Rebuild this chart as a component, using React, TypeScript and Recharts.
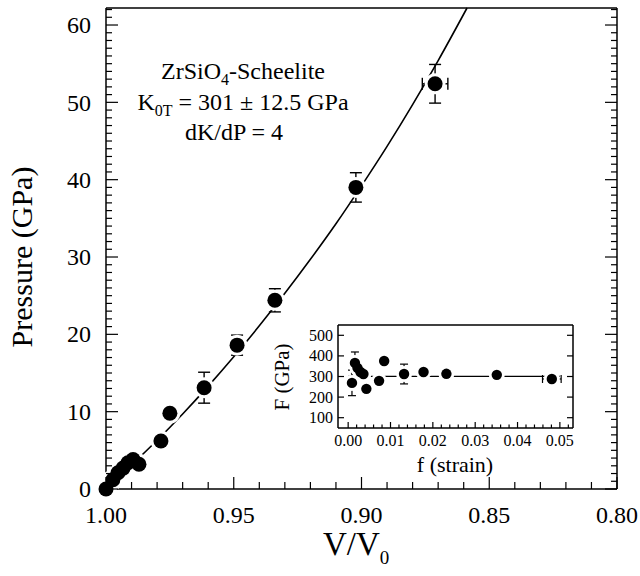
import React from "react";
import { ComposedChart, Line, Scatter, XAxis, YAxis, ErrorBar } from "recharts";

const FONT = "Liberation Serif, Times New Roman, serif";

// main panel: P-V data
const volume = [1.0, 0.9973, 0.9953, 0.9933, 0.9914, 0.9894, 0.9871, 0.9785, 0.975, 0.9616, 0.9487, 0.9339, 0.9022, 0.8712];
const pressure = [0, 1.2, 2.1, 2.7, 3.4, 3.8, 3.2, 6.2, 9.8, 13.1, 18.6, 24.4, 39.0, 52.4];
const pressureErr = [0, 0, 0, 0, 0, 0, 0, 0, 0, 2.0, 1.3, 1.5, 1.9, 2.5];
const volumeErr = [0, 0, 0, 0, 0, 0, 0, 0, 0, 0, 0, 0, 0, 0.005];

// fitted EoS curve
const fitVolume = [1.0, 0.99, 0.98, 0.97, 0.96, 0.95, 0.94, 0.93, 0.92, 0.91, 0.9, 0.89, 0.88, 0.87, 0.8587];
const fitPressure = [0, 3.1, 6.3, 9.7, 13.3, 17.1, 21.1, 25.3, 29.7, 34.3, 39.2, 44.3, 49.7, 55.4, 62.2];

// inset: normalized pressure vs Eulerian strain
const strain = [0.0009, 0.0016, 0.0022, 0.0029, 0.0036, 0.0043, 0.0073, 0.0085, 0.0132, 0.0178, 0.0232, 0.0351, 0.0481];
const normPressure = [269, 366, 342, 322, 312, 240, 279, 375, 312, 322, 313, 308, 288];
const normPressureErr = [62, 53, 0, 0, 0, 0, 0, 0, 48, 0, 0, 0, 0];
const strainErr = [0, 0, 0, 0, 0, 0, 0, 0, 0, 0, 0, 0, 0.0022];
const fitStrain = [0, 0.05];
const fitNormPressure = [301, 301];

// axis ticks
const range = (a: number, b: number, step: number, digits: number) => {
  const out: number[] = [];
  const n = Math.round((b - a) / step);
  for (let i = 0; i <= n; i++) out.push(+(a + i * step).toFixed(digits));
  return out;
};
const mainXTicks = range(0.8, 1.0, 0.01, 2);
const mainXLabels = [1.0, 0.95, 0.9, 0.85, 0.8];
const mainYTicks = range(0, 62, 1, 0);
const mainYLabels = [0, 10, 20, 30, 40, 50, 60];
const insetXTicks = range(0, 0.052, 0.002, 3);
const insetXLabels = [0, 0.01, 0.02, 0.03, 0.04, 0.05];
const insetYTicks = [100, 200, 300, 400, 500];

const mainData = volume.map((v, i) => ({ v, p: pressure[i], ep: pressureErr[i], ev: volumeErr[i] }));
const mainFit = fitVolume.map((v, i) => ({ v, p: fitPressure[i] }));
const insetData = strain.map((f, i) => ({ f, F: normPressure[i], eF: normPressureErr[i], ef: strainErr[i] }));
const insetFit = fitStrain.map((f, i) => ({ f, F: fitNormPressure[i] }));

type Side = "bottom" | "top" | "left" | "right";

function axisTick(side: Side, majors: number[], majorLen: number, minorLen: number, fontSize = 0, off = 0, fmt?: (v: number) => string) {
  return (props: any) => {
    const { x, y, payload } = props;
    const v = payload.value;
    const major = majors.some((m) => Math.abs(m - v) < 1e-9);
    const len = major ? majorLen : minorLen;
    const dx = side === "left" ? len : side === "right" ? -len : 0;
    const dy = side === "bottom" ? -len : side === "top" ? len : 0;
    const txt = { fontSize, fill: "#000", style: { fontFamily: FONT } };
    let label = null;
    if (fmt && major) {
      if (side === "bottom")
        label = (
          <text x={x} y={y + off} textAnchor="middle" {...txt}>
            {fmt(v)}
          </text>
        );
      if (side === "left")
        label = (
          <text x={x - off} y={y + fontSize * 0.34} textAnchor="end" {...txt}>
            {fmt(v)}
          </text>
        );
    }
    return (
      <g>
        <line x1={x} y1={y} x2={x + dx} y2={y + dy} stroke="#000" strokeWidth={1.2} />
        {label}
      </g>
    );
  };
}

const axisLine = { stroke: "#000", strokeWidth: 1.5 };

export default function App() {
  return (
    <div style={{ position: "absolute", left: 0, top: 0, width: 640, height: 576, background: "#fff", fontFamily: FONT }}>
      <ComposedChart width={640} height={576} margin={{ top: 7, right: 22, bottom: 7, left: 6 }}>
        <XAxis
          dataKey="v"
          type="number"
          domain={[0.8, 1.0]}
          reversed
          ticks={mainXTicks}
          interval={0}
          height={80}
          tickSize={0}
          tickMargin={0}
          tickLine={false}
          axisLine={axisLine}
          tick={axisTick("bottom", mainXLabels, 12, 7, 24, 34, (v) => v.toFixed(2))}
        />
        <XAxis
          xAxisId="top"
          orientation="top"
          type="number"
          domain={[0.8, 1.0]}
          reversed
          allowDataOverflow
          ticks={mainXTicks}
          interval={0}
          height={1}
          tickSize={0}
          tickMargin={0}
          tickLine={false}
          axisLine={axisLine}
          tick={axisTick("top", mainXLabels, 12, 7)}
        />
        <YAxis
          type="number"
          domain={[0, 62.2]}
          ticks={mainYTicks}
          interval={0}
          width={100}
          tickSize={0}
          tickMargin={0}
          tickLine={false}
          axisLine={axisLine}
          tick={axisTick("left", mainYLabels, 12, 6, 24, 15, (v) => String(v))}
        />
        <YAxis
          yAxisId="r"
          orientation="right"
          type="number"
          domain={[0, 62.2]}
          allowDataOverflow
          ticks={mainYTicks}
          interval={0}
          width={1}
          tickSize={0}
          tickMargin={0}
          tickLine={false}
          axisLine={axisLine}
          tick={axisTick("right", mainYLabels, 12, 6)}
        />
        <Line data={mainFit} dataKey="p" type="monotone" stroke="#000" strokeWidth={1.6} dot={false} isAnimationActive={false} />
        <Scatter
          data={mainData}
          dataKey="p"
          isAnimationActive={false}
          shape={(p: any) => <circle cx={p.cx} cy={p.cy} r={10.5} fill="#fff" />}
        />
        <Scatter
          data={mainData}
          dataKey="p"
          isAnimationActive={false}
          shape={(p: any) => <circle cx={p.cx} cy={p.cy} r={7.5} fill="#000" />}
        >
          <ErrorBar dataKey="ep" direction="y" width={6} stroke="#000" strokeWidth={1.4} />
          <ErrorBar dataKey="ev" direction="x" width={6} stroke="#000" strokeWidth={1.4} />
        </Scatter>
      </ComposedChart>

      <div style={{ position: "absolute", left: 260, top: 310 }}>
        <ComposedChart width={330} height={175} margin={{ top: 14, right: 16, bottom: 7, left: 8 }}>
          <XAxis
            dataKey="f"
            type="number"
            domain={[-0.0024, 0.0531]}
            ticks={insetXTicks}
            interval={0}
            height={50}
            tickSize={0}
            tickMargin={0}
            tickLine={false}
            axisLine={axisLine}
            tick={axisTick("bottom", insetXLabels, 6, 3.5, 16, 18, (v) => v.toFixed(2))}
          />
          <XAxis
            xAxisId="top"
            orientation="top"
            type="number"
            domain={[-0.0024, 0.0531]}
            allowDataOverflow
            ticks={insetXTicks}
            interval={0}
            height={1}
            tickSize={0}
            tickMargin={0}
            tickLine={false}
            axisLine={axisLine}
            tick={axisTick("top", insetXLabels, 6, 3.5)}
          />
          <YAxis
            type="number"
            domain={[50, 550]}
            ticks={insetYTicks}
            interval={0}
            width={70}
            tickSize={0}
            tickMargin={0}
            tickLine={false}
            axisLine={axisLine}
            tick={axisTick("left", insetYTicks, 6, 6, 16, 5, (v) => String(v))}
          />
          <YAxis
            yAxisId="r"
            orientation="right"
            type="number"
            domain={[50, 550]}
            allowDataOverflow
            ticks={insetYTicks}
            interval={0}
            width={1}
            tickSize={0}
            tickMargin={0}
            tickLine={false}
            axisLine={axisLine}
            tick={axisTick("right", insetYTicks, 6, 6)}
          />
          <Line data={insetFit} dataKey="F" type="linear" stroke="#000" strokeWidth={1.3} dot={false} isAnimationActive={false} />
          <Scatter
            data={insetData}
            dataKey="F"
            isAnimationActive={false}
            shape={(p: any) => <circle cx={p.cx} cy={p.cy} r={8} fill="#fff" />}
          />
          <Scatter
            data={insetData}
            dataKey="F"
            isAnimationActive={false}
            shape={(p: any) => <circle cx={p.cx} cy={p.cy} r={5.2} fill="#000" />}
          >
            <ErrorBar dataKey="eF" direction="y" width={4} stroke="#000" strokeWidth={1.2} />
            <ErrorBar dataKey="ef" direction="x" width={4} stroke="#000" strokeWidth={1.2} />
          </Scatter>
        </ComposedChart>
      </div>

      <svg
        width={640}
        height={576}
        style={{ position: "absolute", left: 0, top: 0, pointerEvents: "none", fontFamily: FONT }}
        fill="#000"
      >
        <text x={32} y={257} fontSize={30} textAnchor="middle" transform="rotate(-90 32 257)">
          Pressure (GPa)
        </text>
        <text x={323} y={555} fontSize={33}>
          V/V<tspan fontSize={19} dy={9}>0</tspan>
        </text>

        <text x={243} y={79} fontSize={24} textAnchor="middle">
          ZrSiO<tspan fontSize={16} dy={6}>4</tspan>
          <tspan dy={-6}>-Scheelite</tspan>
        </text>
        <text x={243} y={110} fontSize={24} textAnchor="middle">
          K<tspan fontSize={16} dy={6}>0T</tspan>
          <tspan dy={-6}> = 301 ± 12.5 GPa</tspan>
        </text>
        <text x={234} y={140} fontSize={24} textAnchor="middle">
          dK/dP = 4
        </text>

        <text x={289} y={377} fontSize={21} textAnchor="middle" transform="rotate(-90 289 377)">
          F (GPa)
        </text>
        <text x={455} y={472} fontSize={22} textAnchor="middle">
          f (strain)
        </text>
      </svg>
    </div>
  );
}
